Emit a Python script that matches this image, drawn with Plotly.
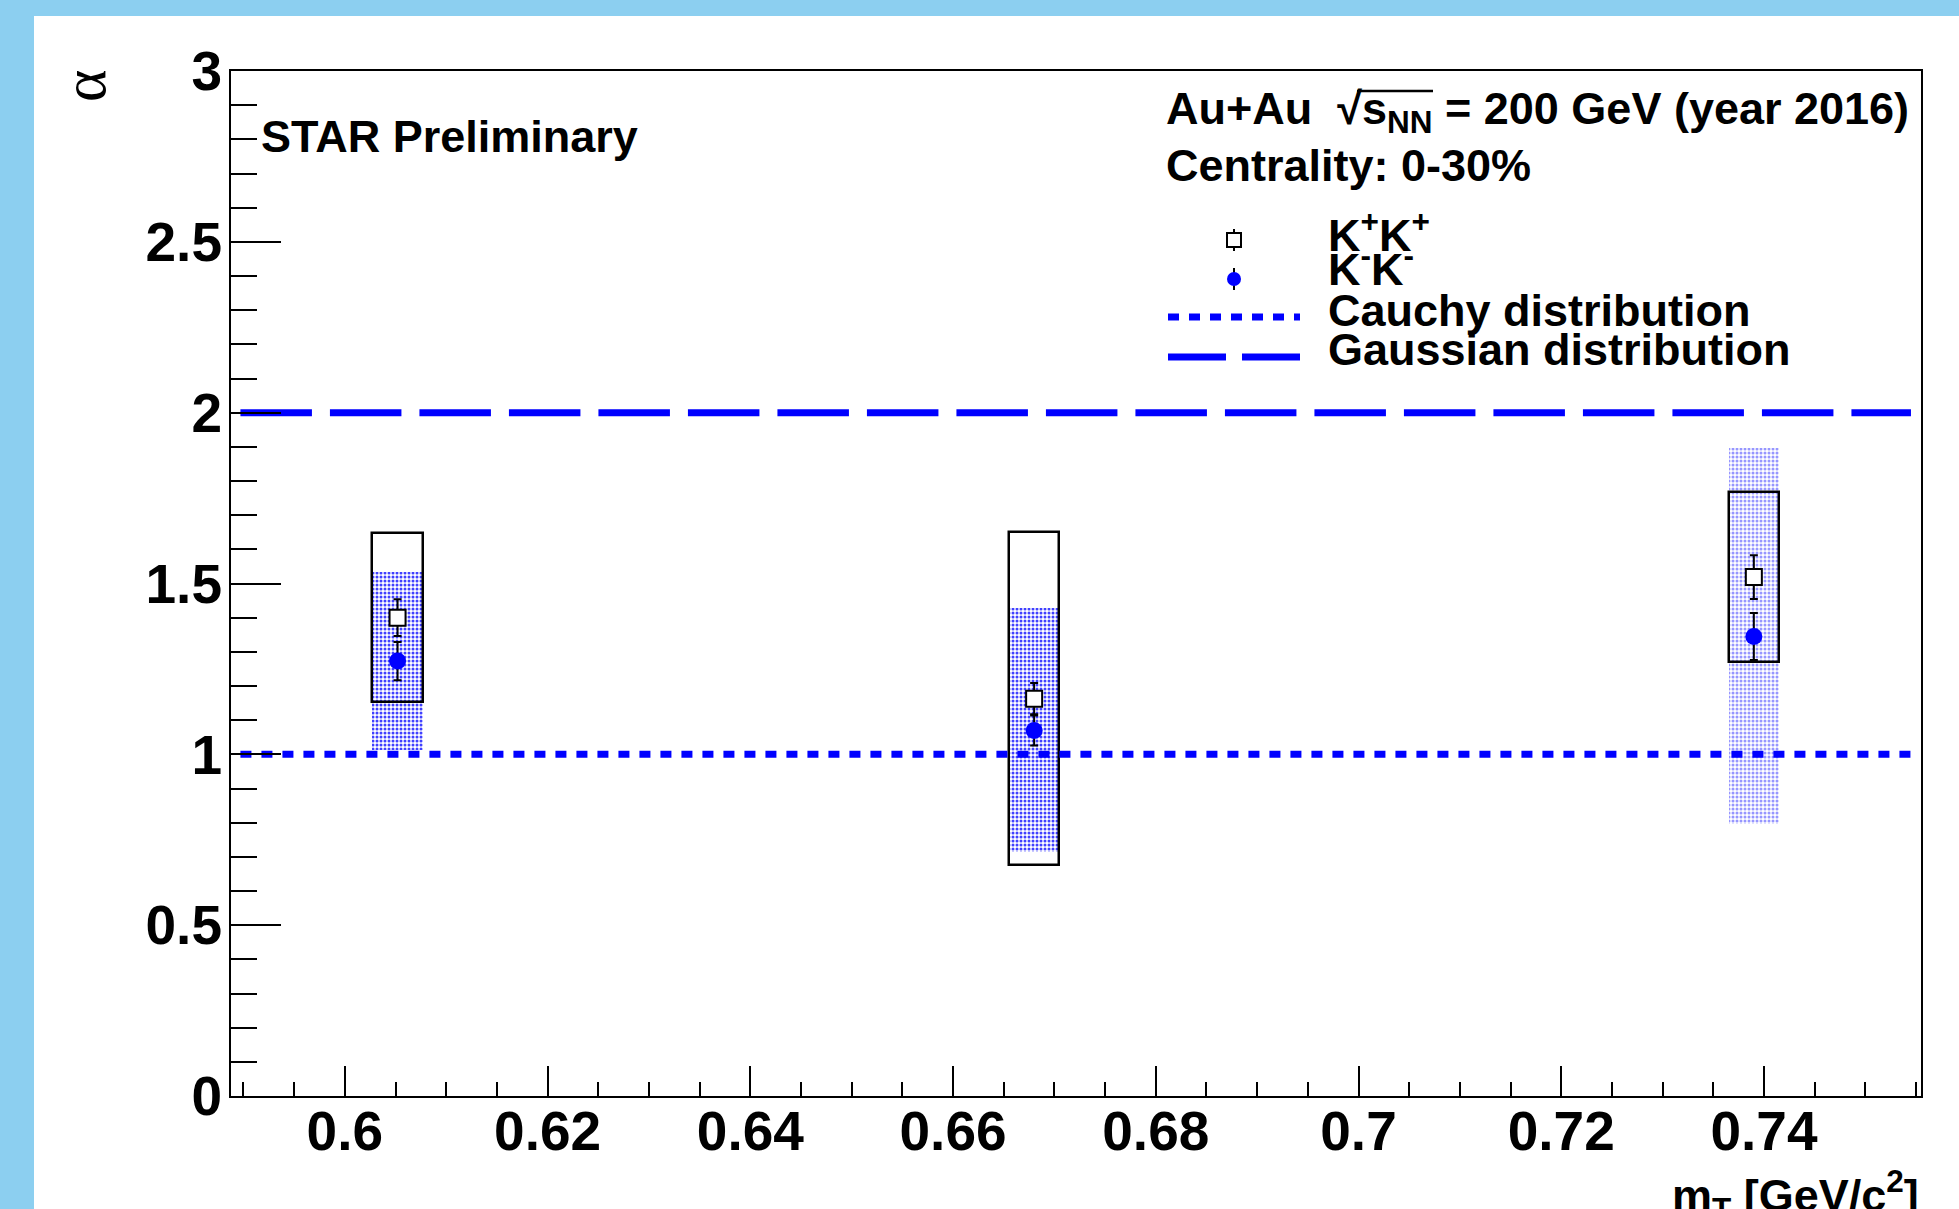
import plotly.graph_objects as go

# ---------------- data ----------------
mt = [0.6052, 0.6680, 0.7390]                 # m_T [GeV/c^2]
alpha_kpkp = [1.400, 1.163, 1.519]            # K+K+ alpha
err_kpkp = [0.054, 0.046, 0.064]              # stat. error K+K+
sys_lo_kpkp = [1.153, 0.675, 1.271]           # systematic box K+K+ (low)
sys_hi_kpkp = [1.647, 1.650, 1.767]           # systematic box K+K+ (high)
alpha_kmkm = [1.273, 1.070, 1.345]            # K-K- alpha
err_kmkm = [0.056, 0.044, 0.069]              # stat. error K-K-
sys_lo_kmkm = [1.012, 0.714, 0.795]           # systematic box K-K- (low)
sys_hi_kmkm = [1.535, 1.429, 1.896]           # systematic box K-K- (high)
box_opacity = [1.0, 1.0, 0.55]
line_x = [0.5897, 0.7545]
cauchy_alpha = 1.0
gauss_alpha = 2.0
y_ticks = [0, 0.5, 1, 1.5, 2, 2.5, 3]
y_ticktext = ["0", "0.5", "1", "1.5", "2", "2.5", "3"]
x_range = [0.58877, 0.75549]
y_range = [0, 3]

# ---------------- layout geometry (pixels) ----------------
W, H = 1959, 1209
L, R, T, B = 231, 1921, 71, 1096


def px(x):
    return (x - L) / (R - L)


def py(y):
    return (B - y) / (B - T)


BLUE = "#0000ff"
FONT = "Liberation Sans, Arial, sans-serif"

fig = go.Figure()

# K-K- systematic (hatched blue)
fig.add_trace(go.Bar(
    x=mt, y=[h - l for h, l in zip(sys_hi_kmkm, sys_lo_kmkm)], base=sys_lo_kmkm,
    width=0.005,
    marker=dict(color="white", opacity=box_opacity, line=dict(width=0),
                pattern=dict(shape=".", fgcolor=BLUE, bgcolor="white",
                             size=4, solidity=0.45, fgopacity=0.75)),
    showlegend=False, hoverinfo="skip"))

# K+K+ systematic (black open box)
fig.add_trace(go.Bar(
    x=mt, y=[h - l for h, l in zip(sys_hi_kpkp, sys_lo_kpkp)], base=sys_lo_kpkp,
    width=0.005,
    marker=dict(color="rgba(0,0,0,0)", line=dict(color="black", width=2.5)),
    showlegend=False, hoverinfo="skip"))

# reference lines
fig.add_trace(go.Scatter(
    x=line_x, y=[cauchy_alpha] * len(line_x), mode="lines",
    line=dict(color=BLUE, width=7, dash="11px,10px"),
    showlegend=False, hoverinfo="skip"))
fig.add_trace(go.Scatter(
    x=line_x, y=[gauss_alpha] * len(line_x), mode="lines",
    line=dict(color=BLUE, width=7, dash="71.5px,18px"),
    showlegend=False, hoverinfo="skip"))

# K+K+ points
fig.add_trace(go.Scatter(
    x=mt, y=alpha_kpkp, mode="markers",
    marker=dict(symbol="square", size=16, color="white",
                line=dict(color="black", width=2)),
    error_y=dict(type="data", array=err_kpkp, color="black", thickness=2, width=4),
    showlegend=False))

# K-K- points
fig.add_trace(go.Scatter(
    x=mt, y=alpha_kmkm, mode="markers",
    marker=dict(symbol="circle", size=17, color=BLUE, line=dict(width=0)),
    error_y=dict(type="data", array=err_kmkm, color="black", thickness=2, width=4),
    showlegend=False))

shapes = []
# light blue frame strips (left, top)
SKY = "#8ccff0"
shapes.append(dict(type="rect", xref="paper", yref="paper", layer="below",
                   x0=px(0), x1=px(34), y0=py(H), y1=py(0),
                   fillcolor=SKY, line=dict(width=0)))
shapes.append(dict(type="rect", xref="paper", yref="paper", layer="below",
                   x0=px(0), x1=px(W), y0=py(16), y1=py(0),
                   fillcolor=SKY, line=dict(width=0)))

# overline of the square root
shapes.append(dict(type="line", xref="paper", yref="paper",
                   x0=px(1357), x1=px(1433), y0=py(91), y1=py(91),
                   line=dict(color="black", width=2.5)))

# legend samples
# square
shapes.append(dict(type="line", xref="paper", yref="paper",
                   x0=px(1234), x1=px(1234), y0=py(229), y1=py(251),
                   line=dict(color="black", width=2)))
shapes.append(dict(type="rect", xref="paper", yref="paper",
                   x0=px(1227), x1=px(1241), y0=py(233), y1=py(247),
                   fillcolor="white", line=dict(color="black", width=2)))
# circle
shapes.append(dict(type="line", xref="paper", yref="paper",
                   x0=px(1234), x1=px(1234), y0=py(268), y1=py(290),
                   line=dict(color="black", width=2)))
shapes.append(dict(type="circle", xref="paper", yref="paper",
                   x0=px(1227), x1=px(1241), y0=py(272), y1=py(286),
                   fillcolor=BLUE, line=dict(width=0)))
# Cauchy sample
shapes.append(dict(type="line", xref="paper", yref="paper",
                   x0=px(1168), x1=px(1300), y0=py(317), y1=py(317),
                   line=dict(color=BLUE, width=7, dash="11px,10px")))
# Gaussian sample
shapes.append(dict(type="line", xref="paper", yref="paper",
                   x0=px(1168), x1=px(1300), y0=py(357), y1=py(357),
                   line=dict(color=BLUE, width=7, dash="58px,16px")))

ann = []


def txt(text, x, y, size=45, xanchor="left", yanchor="middle", bold=True,
        family=FONT, angle=0):
    ann.append(dict(text=text, x=px(x), y=py(y), xref="paper", yref="paper",
                    xanchor=xanchor, yanchor=yanchor, showarrow=False,
                    textangle=angle,
                    font=dict(family=family, size=size, color="black",
                              weight="bold" if bold else "normal")))


txt("STAR Preliminary", 259, 137)
txt("Au+Au  √s<sub>NN</sub> = 200 GeV (year 2016)", 1164, 111)
txt("Centrality: 0-30%", 1164, 166)
txt("K<sup>+</sup>K<sup>+</sup>", 1326, 232)
txt("K<sup>-</sup>K<sup>-</sup>", 1326, 266)
txt("Cauchy distribution", 1326, 310)
txt("Gaussian distribution", 1326, 349)
txt("m<sub>T</sub> [GeV/c<sup>2</sup>]", 1921, 1195, xanchor="right")
txt("α", 84, 86, size=62, bold=False, family="Liberation Serif, serif",
    xanchor="center", angle=-90)

fig.update_layout(
    width=W, height=H,
    margin=dict(l=L, r=W - R, t=T, b=H - B, pad=0),
    paper_bgcolor="white", plot_bgcolor="white",
    barmode="overlay", bargap=0,
    shapes=shapes, annotations=ann,
    showlegend=False,
    font=dict(family=FONT, color="black"),
)

fig.update_xaxes(
    range=x_range, showgrid=False, zeroline=False,
    showline=True, linecolor="black", linewidth=2, mirror=True,
    ticks="inside", ticklen=30, tickwidth=2, tickcolor="black",
    tick0=0.6, dtick=0.02,
    tickfont=dict(family=FONT, size=55, color="black", weight="bold"),
    ticklabelstandoff=-14,
    minor=dict(ticks="inside", ticklen=14, tickwidth=2, tickcolor="black",
               dtick=0.005, tick0=0.6, showgrid=False),
)
fig.update_yaxes(
    range=y_range, showgrid=False, zeroline=False,
    showline=True, linecolor="black", linewidth=2, mirror=True,
    ticks="inside", ticklen=50, tickwidth=2, tickcolor="black",
    tickvals=y_ticks, ticktext=y_ticktext,
    tickfont=dict(family=FONT, size=55, color="black", weight="bold"),
    ticklabelstandoff=-4,
    minor=dict(ticks="inside", ticklen=26, tickwidth=2, tickcolor="black",
               dtick=0.1, tick0=0, showgrid=False),
)

fig.write_html("out.html")
